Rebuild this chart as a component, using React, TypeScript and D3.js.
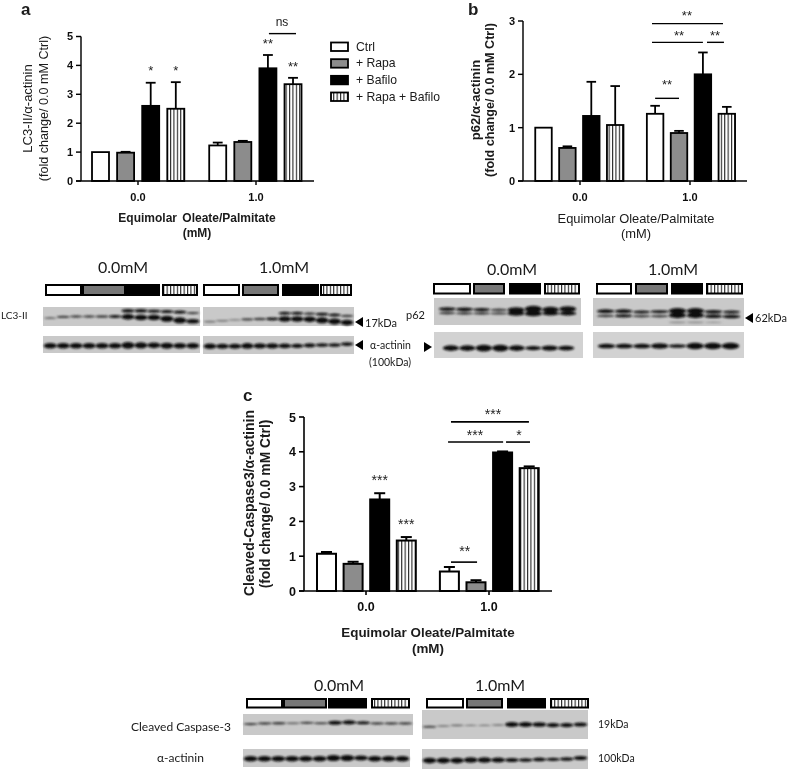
import React from "react";
import * as d3 from "d3";

// ---------- bar data ----------
const doses = ["0.0", "1.0"];
const treatments = ["Ctrl", "+ Rapa", "+ Bafilo", "+ Rapa + Bafilo"];
const lc3Values = [1, 0.98, 2.6, 2.5, 1.23, 1.35, 3.9, 3.35];
const lc3Errors = [0, 0.03, 0.8, 0.92, 0.1, 0.04, 0.46, 0.22];
const p62Values = [1, 0.62, 1.22, 1.05, 1.26, 0.9, 2.0, 1.26];
const p62Errors = [0, 0.03, 0.64, 0.73, 0.15, 0.04, 0.41, 0.13];
const casValues = [1.07, 0.78, 2.63, 1.45, 0.56, 0.25, 3.98, 3.53];
const casErrors = [0.05, 0.06, 0.18, 0.1, 0.13, 0.06, 0.03, 0.05];

// significance: label, bar slot, value
const lc3Stars: [string, number, number][] = [["*", 2, 3.9], ["*", 3, 3.9], ["**", 6.67, 4.86], ["**", 7.67, 4.07]];
const lc3Lines: [number, number, number][] = [[6.71, 7.79, 5.1]];
const p62Stars: [string, number, number][] = [["**", 6.0, 3.15], ["**", 5.67, 2.77], ["**", 7.18, 2.77], ["**", 5.17, 1.86]];
const p62Lines: [number, number, number][] = [[4.54, 7.51, 2.95], [4.54, 6.67, 2.6], [6.84, 7.55, 2.6], [4.67, 5.67, 1.55]];
const casStars: [string, number, number][] = [["***", 6.26, 5.17], ["***", 5.58, 4.57], ["*", 7.24, 4.57], ["***", 2, 3.28], ["***", 3, 2.01], ["**", 5.2, 1.24]];
const casLines: [number, number, number][] = [[4.68, 7.61, 4.86], [4.57, 6.64, 4.28], [6.75, 7.65, 4.28], [4.68, 5.66, 0.83]];

// ---------- blot band data: relative height in lane, thickness of band ----------
const lc3LeftUpper = [0, 0, 0, 0, 0, 0, 3, 3, 2.5, 2.5, 2.5, 1.5];
const lc3LeftUpperPos = [0, 0, 0, 0, 0, 0, 0.2, 0.2, 0.22, 0.24, 0.27, 0.32];
const lc3LeftLower = [1.2, 1.8, 1.8, 1.8, 2, 2.5, 5, 5, 5, 5.5, 5.5, 4];
const lc3LeftLowerPos = [0.58, 0.52, 0.5, 0.5, 0.5, 0.5, 0.52, 0.55, 0.55, 0.62, 0.7, 0.75];
const lc3RightUpper = [0, 0, 0, 0, 0, 0, 2.5, 2.5, 2, 2.5, 2.5, 2];
const lc3RightUpperPos = [0, 0, 0, 0, 0, 0, 0.33, 0.33, 0.35, 0.38, 0.42, 0.47];
const lc3RightLower = [1, 1, 0.8, 1.8, 2, 2.5, 5, 5, 5, 5.5, 5.5, 5];
const lc3RightLowerPos = [0.77, 0.72, 0.68, 0.65, 0.63, 0.63, 0.63, 0.63, 0.65, 0.7, 0.76, 0.82];
const actinALeft = [5, 5, 5, 5, 5, 5, 6, 5.5, 5, 5.5, 5, 5];
const actinALeftPos = [0.57, 0.57, 0.57, 0.57, 0.57, 0.57, 0.55, 0.55, 0.55, 0.57, 0.57, 0.57];
const actinARight = [5, 4.5, 4.5, 5, 4.5, 4.5, 4, 3.5, 3.5, 3, 3, 3];
const actinARightPos = [0.57, 0.57, 0.57, 0.55, 0.55, 0.55, 0.55, 0.55, 0.52, 0.5, 0.5, 0.45];

const p62LeftUpper = [3, 3, 2.5, 2, 4.5, 6, 5, 5];
const p62LeftLower = [2, 2, 2, 1.5, 4, 4.5, 3.5, 3.5];
const p62LeftUpperPos = [0.41, 0.42, 0.43, 0.44, 0.44, 0.41, 0.43, 0.41];
const p62LeftLowerPos = [0.56, 0.57, 0.57, 0.57, 0.57, 0.58, 0.57, 0.57];
const p62RightUpper = [3, 3, 2.5, 2.5, 5, 5, 3, 2.5];
const p62RightLower = [2, 2.5, 2, 2, 5, 5, 3, 3];
const p62RightFaint = [0, 0, 0, 0, 1.2, 1.2, 0.5, 0];
const p62RightUpperPos = [0.47, 0.47, 0.5, 0.49, 0.46, 0.46, 0.49, 0.5];
const p62RightLowerPos = [0.64, 0.64, 0.65, 0.65, 0.62, 0.62, 0.65, 0.66];
const p62RightFaintPos = [0, 0, 0, 0, 0.87, 0.87, 0.87, 0];
const actinBLeft = [5, 5, 6, 6, 5, 3.5, 4.5, 4];
const actinBRight = [4, 4, 4, 5, 3, 6, 6, 6];
const actinBLeftPos = [0.62, 0.62, 0.62, 0.62, 0.62, 0.62, 0.62, 0.62];
const actinBRightPos = [0.54, 0.54, 0.54, 0.54, 0.54, 0.54, 0.54, 0.54];

const casLeft = [1.5, 2, 2, 1.3, 1.6, 1.6, 3.5, 3.5, 2.5, 2, 2, 2];
const casLeftPos = [0.48, 0.45, 0.44, 0.44, 0.42, 0.44, 0.42, 0.4, 0.42, 0.45, 0.45, 0.45];
const casRight = [1.5, 1, 1.2, 0.5, 0.6, 0.9, 4.5, 4.5, 4, 3.5, 3.5, 3.5];
const casRightPos = [0.58, 0.55, 0.53, 0.53, 0.53, 0.52, 0.5, 0.5, 0.5, 0.52, 0.52, 0.5];
const actinCLeft = [5, 5, 5, 5, 5, 5, 5.5, 5.5, 4.5, 5, 5, 5];
const actinCLeftPos = [0.54, 0.54, 0.54, 0.54, 0.54, 0.54, 0.5, 0.5, 0.5, 0.54, 0.54, 0.54];
const actinCRight = [5, 5, 5, 5, 5, 4.5, 3.5, 3, 3, 2.5, 3, 3.5];
const actinCRightPos = [0.58, 0.58, 0.58, 0.55, 0.55, 0.55, 0.55, 0.55, 0.52, 0.52, 0.5, 0.45];

const SANS = "'Liberation Sans', Arial, sans-serif";
const CAL = "Lato, 'Open Sans', sans-serif";

function fillFor(i: number) {
  return ["#ffffff", "#8c8c8c", "#000000", "url(#hatch)"][i % 4];
}

function BarPanel(p: {
  values: number[]; errors: number[]; yMax: number; xEnd: number; y0: number; yTop: number;
  axisX: number; first: number; step: number; gap: number; barW: number; tickXs: number[];
  stars: [string, number, number][]; lines: [number, number, number][];
  fs: number; sw: number; starFs: number; lineW: number;
}) {
  const y = d3.scaleLinear().domain([0, p.yMax]).range([p.y0, p.yTop]);
  const x = d3.scaleLinear().domain([0, 1]).range([p.first, p.first + p.step]);
  const slotOf = (i: number) => (i >= 4 ? i + p.gap : i);
  const ticks = d3.range(0, p.yMax + 1);
  return (
    <g>
      {p.values.map((v, i) => {
        const cx = x(slotOf(i));
        const e = p.errors[i];
        return (
          <g key={i}>
            {e > 0 && (
              <g stroke="#000" strokeWidth={p.sw}>
                <line x1={cx} x2={cx} y1={y(v)} y2={y(v + e)} />
                <line x1={cx - p.barW * 0.29} x2={cx + p.barW * 0.29} y1={y(v + e)} y2={y(v + e)} />
              </g>
            )}
            <rect x={cx - p.barW / 2} y={y(v)} width={p.barW} height={y(0) - y(v)} fill={fillFor(i)} stroke="#000" strokeWidth={p.sw} />
          </g>
        );
      })}
      <g stroke="#000" strokeWidth={p.sw * 0.8} fill="none">
        <line x1={p.axisX} x2={p.axisX} y1={p.yTop} y2={p.y0} />
        <line x1={p.axisX - 5} x2={p.xEnd} y1={p.y0} y2={p.y0} />
        {ticks.map((t) => (
          <line key={t} x1={p.axisX - 5} x2={p.axisX} y1={y(t)} y2={y(t)} />
        ))}
        {p.tickXs.map((t) => (
          <line key={t} x1={t} x2={t} y1={p.y0} y2={p.y0 + 4} />
        ))}
      </g>
      <g fontFamily={SANS} fontWeight="bold" fontSize={p.fs} fill="#111">
        {ticks.map((t) => (
          <text key={t} x={p.axisX - 8} y={y(t) + p.fs * 0.36} textAnchor="end">{t}</text>
        ))}
        {p.tickXs.map((t, i) => (
          <text key={t} x={t} y={p.y0 + 20} textAnchor="middle">{doses[i]}</text>
        ))}
      </g>
      <g fontFamily={SANS} fontSize={p.starFs} fill="#222" textAnchor="middle">
        {p.stars.map(([s, sl, v], i) => (
          <text key={i} x={x(sl)} y={y(v) + p.starFs * 0.55}>{s}</text>
        ))}
      </g>
      <g stroke="#000" strokeWidth={p.lineW}>
        {p.lines.map(([a, b, v], i) => (
          <line key={i} x1={x(a)} x2={x(b)} y1={y(v)} y2={y(v)} />
        ))}
      </g>
    </g>
  );
}

function CondStrip(p: { y: number; h: number; edges: [number, number][] }) {
  return (
    <g>
      {p.edges.map(([a, b], i) => (
        <rect key={i} x={a + 1} y={p.y + 1} width={b - a - 2} height={p.h - 2}
          fill={i === 1 ? "#777" : fillFor(i)} stroke="#000" strokeWidth={2} />
      ))}
    </g>
  );
}

function Blot(p: { x: number; y: number; w: number; h: number; bg?: string; pad?: number;
  rows: { thick: number[]; pos: number[]; grey?: string }[] }) {
  const n = p.rows[0].thick.length;
  const lane = d3.scaleBand<number>().domain(d3.range(n)).range([p.x + (p.pad ?? 1), p.x + p.w - (p.pad ?? 1)]).paddingInner(0.04);
  const yy = d3.scaleLinear().domain([0, 1]).range([p.y, p.y + p.h]);
  return (
    <g>
      <rect x={p.x} y={p.y} width={p.w} height={p.h} fill={p.bg ?? "#c9c9c9"} />
      <g filter="url(#bandBlur)">
        {p.rows.map((r, ri) =>
          r.thick.map((t, i) =>
            t > 0 ? (
              <ellipse key={ri + "-" + i} cx={(lane(i) as number) + lane.bandwidth() / 2} cy={yy(r.pos[i])}
                rx={lane.bandwidth() / 2 + 0.3} ry={t / 2 + 0.3} fill={r.grey ?? (t < 1.4 ? "#666" : t < 2.2 ? "#3a3a3a" : "#111")} />
            ) : null
          )
        )}
      </g>
    </g>
  );
}

function T(p: { x: number; y: number; size: number; anchor?: string; bold?: boolean; fam?: string; children: any; rot?: number; ws?: number }) {
  return (
    <text x={p.x} y={p.y} fontSize={p.size} textAnchor={p.anchor ?? "start"} fontWeight={p.bold ? "bold" : "normal"}
      fontFamily={p.fam ?? SANS} fill="#1a1a1a" wordSpacing={p.ws}
      transform={p.rot ? `rotate(${p.rot} ${p.x} ${p.y})` : undefined}>{p.children}</text>
  );
}

function Arrow(p: { x: number; y: number; dir: number }) {
  const path = d3.path();
  path.moveTo(p.x, p.y);
  path.lineTo(p.x + 8 * p.dir, p.y - 5);
  path.lineTo(p.x + 8 * p.dir, p.y + 5);
  path.closePath();
  return <path d={path.toString()} fill="#000" />;
}

export default function App() {
  const legendY = d3.scalePoint<number>().domain([0, 1, 2, 3]).range([46.5, 96.5]);
  return (
    <svg width={787} height={771} viewBox="0 0 787 771"
      style={{ position: "absolute", left: 0, top: 0, display: "block", background: "#fff" }}>
      <defs>
        <pattern id="hatch" patternUnits="userSpaceOnUse" width={3.4} height={4}>
          <rect width={3.4} height={4} fill="#fff" />
          <rect x={0} width={1.1} height={4} fill="#222" />
        </pattern>
        <filter id="bandBlur" x="-10%" y="-50%" width="120%" height="200%">
          <feGaussianBlur stdDeviation={0.8} />
        </filter>
        <filter id="soft" x="0" y="0" width="100%" height="100%">
          <feGaussianBlur stdDeviation={0.35} />
        </filter>
      </defs>
      <g filter="url(#soft)">
        {/* panel letters */}
        <T x={21} y={15} size={17} bold>a</T>
        <T x={468} y={15} size={17} bold>b</T>
        <T x={243} y={401} size={17} bold>c</T>

        {/* Panel a */}
        <BarPanel values={lc3Values} errors={lc3Errors} yMax={5} xEnd={314} y0={181} yTop={36.5}
          axisX={81} first={100.5} step={25.1} gap={0.67} barW={17} tickXs={[138, 256]}
          stars={lc3Stars} lines={lc3Lines} fs={11} sw={1.8} starFs={13} lineW={1.4} />
        <T x={282} y={26} size={12} anchor="middle">ns</T>
        <T x={32} y={108.5} size={13} anchor="middle" rot={-90}>LC3-II/α-actinin</T>
        <T x={48} y={108.5} size={12.6} anchor="middle" rot={-90}>(fold change/ 0.0 mM Ctrl)</T>
        <T x={197} y={222} size={12} anchor="middle" bold ws={2}>Equimolar Oleate/Palmitate</T>
        <T x={197} y=  {237} size={12} anchor="middle" bold>(mM)</T>

        {treatments.map((t, i) => (
          <g key={t}>
            <rect x={331} y={legendY(i)! - 4} width={17} height={8.5} fill={fillFor(i)} stroke="#000" strokeWidth={1.8} />
            <T x={356} y={legendY(i)! + 4} size={12.2}>{t}</T>
          </g>
        ))}

        {/* Panel b */}
        <BarPanel values={p62Values} errors={p62Errors} yMax={3} xEnd={747} y0={181} yTop={21}
          axisX={523} first={543.5} step={23.9} gap={0.67} barW={16.5} tickXs={[580, 690]}
          stars={p62Stars} lines={p62Lines} fs={11} sw={1.8} starFs={13} lineW={1.4} />
        <T x={480} y={100} size={13} anchor="middle" bold rot={-90}>p62/α-actinin</T>
        <T x={494} y={100} size={12.6} anchor="middle" bold rot={-90}>(fold change/ 0.0 mM Ctrl)</T>
        <T x={636} y={223} size={12.9} anchor="middle">Equimolar Oleate/Palmitate</T>
        <T x={636} y={238} size={12.9} anchor="middle">(mM)</T>

        {/* Panel c */}
        <BarPanel values={casValues} errors={casErrors} yMax={5} xEnd={552} y0={591} yTop={417}
          axisX={304} first={326.5} step={26.6} gap={0.62} barW={19} tickXs={[366, 489]}
          stars={casStars} lines={casLines} fs={12.5} sw={2} starFs={14} lineW={1.6} />
        <T x={254} y={503} size={14} anchor="middle" bold rot={-90}>Cleaved-Caspase3/α-actinin</T>
        <T x={270} y={504} size={13.8} anchor="middle" bold rot={-90}>(fold change/ 0.0 mM Ctrl)</T>
        <T x={428} y={637} size={13.4} anchor="middle" bold>Equimolar Oleate/Palmitate</T>
        <T x={428} y={653} size={13.4} anchor="middle" bold>(mM)</T>

        {/* Blots a */}
        <T x={123} y={273} size={16} anchor="middle" fam={CAL}>0.0mM</T>
        <T x={284} y={273} size={16} anchor="middle" fam={CAL}>1.0mM</T>
        <CondStrip y={284} h={12} edges={[[45, 82], [82, 126], [126, 160], [162, 198]]} />
        <CondStrip y={284} h={12} edges={[[203, 240], [242, 279], [282, 319], [320, 352]]} />
        <Blot x={43} y={307} w={157} h={19} rows={[{ thick: lc3LeftUpper, pos: lc3LeftUpperPos }, { thick: lc3LeftLower, pos: lc3LeftLowerPos }]} />
        <Blot x={203} y={307} w={151} h={19} rows={[{ thick: lc3RightUpper, pos: lc3RightUpperPos }, { thick: lc3RightLower, pos: lc3RightLowerPos }]} />
        <Blot x={43} y={336} w={157} h={17} rows={[{ thick: actinALeft, pos: actinALeftPos }]} />
        <Blot x={203} y={336} w={151} h={18} rows={[{ thick: actinARight, pos: actinARightPos }]} />
        <T x={1} y={319} size={10} fam={CAL}>LC3-II</T>
        <Arrow x={355} y={322} dir={1} />
        <Arrow x={355} y={345} dir={1} />
        <T x={365} y={327} size={11} fam={CAL}>17kDa</T>
        <T x={370} y={349} size={10.5} fam={CAL}>α-actinin</T>
        <T x={369} y={366} size={10.5} fam={CAL}>(100kDa)</T>

        {/* Blots b */}
        <T x={512} y={275} size={16} anchor="middle" fam={CAL}>0.0mM</T>
        <T x={673} y={275} size={16} anchor="middle" fam={CAL}>1.0mM</T>
        <CondStrip y={283} h={11.5} edges={[[433, 471], [473, 505], [509, 541], [544, 580]]} />
        <CondStrip y={283} h={11.5} edges={[[596, 632], [635, 668], [671, 703], [706, 743]]} />
        <Blot x={434} y={298} w={147} h={27} pad={5} rows={[{ thick: p62LeftUpper, pos: p62LeftUpperPos }, { thick: p62LeftLower, pos: p62LeftLowerPos }]} />
        <Blot x={593} y={298} w={151} h={28} pad={4} rows={[
          { thick: p62RightUpper, pos: p62RightUpperPos }, { thick: p62RightLower, pos: p62RightLowerPos },
          { thick: p62RightFaint, pos: p62RightFaintPos, grey: "#888" }]} />
        <Blot x={434} y={332} w={149} h={26} pad={9} bg="#d2d2d2" rows={[{ thick: actinBLeft, pos: actinBLeftPos }]} />
        <Blot x={593} y={332} w={151} h={26} pad={5} bg="#d2d2d2" rows={[{ thick: actinBRight, pos: actinBRightPos }]} />
        <T x={406} y={319} size={11} fam={CAL}>p62</T>
        <Arrow x={745} y={318} dir={1} />
        <Arrow x={432} y={347} dir={-1} />
        <T x={755} y={322} size={11} fam={CAL}>62kDa</T>

        {/* Blots c */}
        <T x={339} y={691} size={16} anchor="middle" fam={CAL}>0.0mM</T>
        <T x={500} y={691} size={16} anchor="middle" fam={CAL}>1.0mM</T>
        <CondStrip y={698} h={10.5} edges={[[246, 283], [283, 327], [328, 367], [371, 410]]} />
        <CondStrip y={698} h={10.5} edges={[[426, 464], [466, 503], [507, 546], [550, 589]]} />
        <Blot x={243} y={714} w={170} h={21} rows={[{ thick: casLeft, pos: casLeftPos }]} />
        <Blot x={422} y={710} w={166} h={29} rows={[{ thick: casRight, pos: casRightPos }]} />
        <Blot x={243} y={749} w={167} h={18} rows={[{ thick: actinCLeft, pos: actinCLeftPos }]} />
        <Blot x={422} y={749} w={166} h={20} rows={[{ thick: actinCRight, pos: actinCRightPos }]} />
        <T x={131} y={731} size={12} fam={CAL}>Cleaved Caspase-3</T>
        <T x={157} y={762} size={12} fam={CAL}>α-actinin</T>
        <T x={598} y={728} size={10.5} fam={CAL}>19kDa</T>
        <T x={598} y={762} size={10.5} fam={CAL}>100kDa</T>
      </g>
    </svg>
  );
}
